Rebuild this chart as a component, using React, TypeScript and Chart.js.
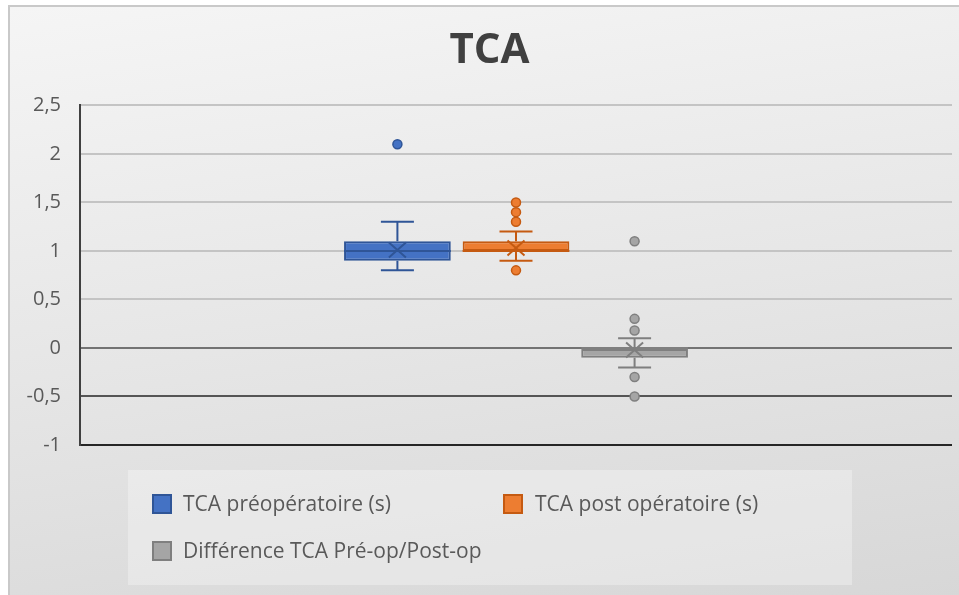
import React, { useEffect, useRef } from 'react';
import { Chart, registerables } from 'chart.js';

Chart.register(...registerables);

// ---- data ----
const categories = [''];
const seriesNames = ['TCA préopératoire (s)', 'TCA post opératoire (s)', 'Différence TCA Pré-op/Post-op'];
const q1Values = [0.9, 1.0, -0.1];
const q3Values = [1.1, 1.1, 0.0];
const medianValues = [1.0, 1.0, 0.0];
const meanValues = [1.01, 1.03, -0.02];
const whiskerLowValues = [0.8, 0.9, -0.2];
const whiskerHighValues = [1.3, 1.2, 0.1];
const outliersPre = [2.1];
const outliersPost = [1.5, 1.4, 1.3, 0.8];
const outliersDiff = [1.1, 0.3, 0.18, -0.3, -0.5];
const outliers = [outliersPre, outliersPost, outliersDiff];
const yMin = -1;
const yMax = 2.5;
const yStep = 0.5;

const fillColors = ['#4472C4', '#ED7D31', '#A5A5A5'];
const lineColors = ['#2F5597', '#C55A11', '#7F7F7F'];
const FONT = '"Open Sans", "Noto Sans", sans-serif';

const boxPlugin = {
  id: 'boxExtras',
  afterDatasetsDraw(chart: any) {
    const ctx = chart.ctx;
    const ys = chart.scales.y;
    chart.data.datasets.forEach((_ds: any, i: number) => {
      const bar = chart.getDatasetMeta(i).data[0];
      if (!bar) return;
      const x = bar.x;
      const half = bar.width / 2;
      const capHalf = 16.5;
      const yQ1 = ys.getPixelForValue(q1Values[i]);
      const yQ3 = ys.getPixelForValue(q3Values[i]);
      const yLo = ys.getPixelForValue(whiskerLowValues[i]);
      const yHi = ys.getPixelForValue(whiskerHighValues[i]);
      const yMed = ys.getPixelForValue(medianValues[i]);
      const yMean = ys.getPixelForValue(meanValues[i]);
      ctx.save();
      ctx.strokeStyle = lineColors[i];
      ctx.lineWidth = 2;
      ctx.beginPath();
      // upper whisker
      ctx.moveTo(x, yQ3);
      ctx.lineTo(x, yHi);
      ctx.moveTo(x - capHalf, yHi);
      ctx.lineTo(x + capHalf, yHi);
      // lower whisker
      ctx.moveTo(x, yQ1);
      ctx.lineTo(x, yLo);
      ctx.moveTo(x - capHalf, yLo);
      ctx.lineTo(x + capHalf, yLo);
      // median
      ctx.moveTo(x - half, yMed);
      ctx.lineTo(x + half, yMed);
      // mean X
      ctx.moveTo(x - 8.5, yMean - 7.5);
      ctx.lineTo(x + 8.5, yMean + 7.5);
      ctx.moveTo(x - 8.5, yMean + 7.5);
      ctx.lineTo(x + 8.5, yMean - 7.5);
      ctx.stroke();
      // outliers
      ctx.fillStyle = fillColors[i];
      ctx.lineWidth = 1.5;
      outliers[i].forEach((v) => {
        const py = ys.getPixelForValue(v);
        ctx.beginPath();
        ctx.arc(x, py, 4.5, 0, Math.PI * 2);
        ctx.fill();
        ctx.stroke();
      });
      ctx.restore();
    });
  },
};

function gridColor(v: number) {
  if (v <= -1) return '#262626';
  if (v <= -0.5) return '#555555';
  if (v <= 0) return '#737373';
  return '#c4c4c4';
}

export default function App() {
  const ref = useRef<HTMLCanvasElement | null>(null);

  useEffect(() => {
    if (!ref.current) return;
    const chart = new Chart(ref.current, {
      type: 'bar',
      data: {
        labels: categories,
        datasets: seriesNames.map((name, i) => ({
          label: name,
          data: [[q1Values[i], q3Values[i]]] as any,
          backgroundColor: fillColors[i],
          borderColor: lineColors[i],
          borderWidth: 2,
          borderSkipped: false,
          categoryPercentage: 0.408,
          barPercentage: 0.9,
        })),
      },
      options: {
        responsive: false,
        animation: false,
        devicePixelRatio: 1,
        layout: { padding: { left: 0, right: 0, top: 0, bottom: 162 } },
        plugins: {
          legend: { display: false },
          tooltip: { enabled: false },
          title: {
            display: true,
            text: 'TCA',
            color: '#404040',
            font: { family: FONT, size: 42, weight: 'bold' },
            padding: { top: 19, bottom: 29 },
          },
        },
        scales: {
          x: {
            type: 'category',
            grid: { display: false },
            border: { display: false },
            ticks: { display: false },
            afterFit: (s: any) => { s.height = 0; },
          },
          y: {
            min: yMin,
            max: yMax,
            ticks: {
              stepSize: yStep,
              padding: 19,
              color: '#595959',
              font: { family: FONT, size: 20 },
              callback: (v: any) => String(v).replace('.', ','),
            },
            grid: {
              drawTicks: false,
              lineWidth: 2,
              color: (c: any) => gridColor(c.tick ? c.tick.value : 0),
            },
            border: { display: true, color: '#404040', width: 2 },
            afterFit: (s: any) => { s.width = 70; },
          },
          yRight: {
            position: 'right',
            display: true,
            min: yMin,
            max: yMax,
            grid: { display: false, drawTicks: false },
            border: { display: false },
            ticks: { display: false },
            afterFit: (s: any) => { s.width = 17; },
          },
        },
      },
      plugins: [boxPlugin],
    });
    return () => chart.destroy();
  }, []);

  const swatch = (i: number, left: number, top: number) => (
    <div
      style={{
        position: 'absolute',
        left,
        top,
        width: 16,
        height: 16,
        background: fillColors[i],
        border: `2px solid ${lineColors[i]}`,
      }}
    />
  );
  const label = (text: string, left: number, top: number) => (
    <div
      style={{
        position: 'absolute',
        left,
        top,
        height: 21,
        lineHeight: '21px',
        fontFamily: FONT,
        fontSize: 21,
        color: '#595959',
        whiteSpace: 'nowrap',
      }}
    >
      {text}
    </div>
  );

  return (
    <div style={{ position: 'fixed', left: 0, top: 0, width: 959, height: 595, overflow: 'hidden', background: '#ffffff' }}>
      <div
        style={{
          position: 'absolute',
          left: 8,
          top: 5,
          width: 980,
          height: 610,
          border: '2px solid #c9c9c9',
          background: 'linear-gradient(172deg, #f5f5f5 0%, #e6e6e6 50%, #d6d6d6 100%)',
        }}
      >
        <canvas ref={ref} width={959} height={600} style={{ position: 'absolute', left: 0, top: 0 }} />
        <div
          style={{
            position: 'absolute',
            left: 118,
            top: 463,
            width: 724,
            height: 115,
            background: 'rgba(255,255,255,0.3)',
          }}
        >
          {swatch(0, 24, 24)}
          {label(seriesNames[0], 55, 23)}
          {swatch(1, 375, 24)}
          {label(seriesNames[1], 407, 23)}
          {swatch(2, 24, 71)}
          {label(seriesNames[2], 55, 70)}
        </div>
      </div>
    </div>
  );
}
